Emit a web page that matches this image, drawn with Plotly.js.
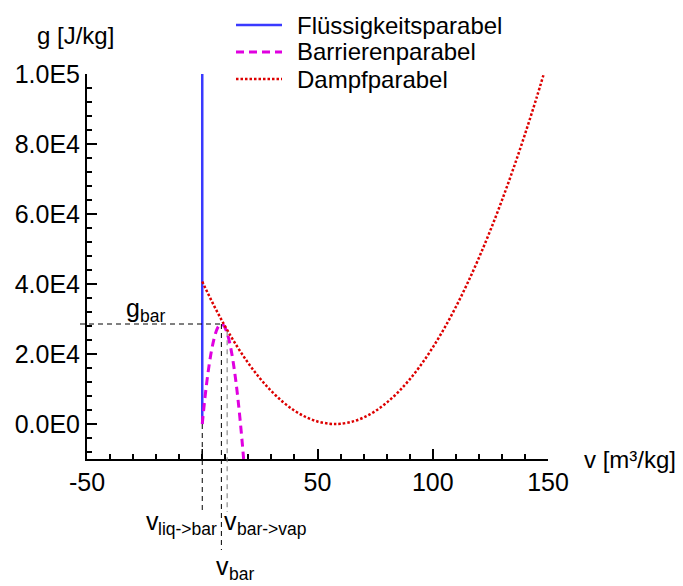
<!DOCTYPE html>
<html><head><meta charset="utf-8">
<script src="https://cdn.plot.ly/plotly-3.0.1.min.js"></script>
<style>html,body{margin:0;padding:0;background:#fff}#chart{width:683px;height:586px}</style>
</head><body><div id="chart"></div>
<script>
// ---- data ----
const seriesNames = ['Flüssigkeitsparabel', 'Barrierenparabel', 'Dampfparabel'];
const liqV = [0, 0];
const liqG = [0, 100000];
const barV = [0, 1, 2, 3, 4, 5, 6, 7, 8.3, 9.5, 10.5, 11.5, 12.5, 13.5, 14.5, 15.5, 16.5, 17.5, 17.95];
const barG = [0, 6470, 12110, 16920, 20900, 24050, 26380, 27870, 28570, 27970, 26560, 24320, 21250, 17360, 12630, 7070, 690, -6530, -10000];
const vapV = [0, 5, 10, 15, 20, 25, 30, 35, 40, 45, 50, 55, 57.7, 60, 65, 70, 75, 80, 85, 90, 95, 100, 105, 110, 115, 120, 125, 130, 135, 140, 145, 148];
const vapG = [40700, 33940, 27800, 22280, 17370, 13070, 9380, 6300, 3830, 1970, 725, 90, 0, 65, 650, 1850, 3660, 6080, 9110, 12750, 17000, 21870, 27340, 33430, 40120, 47430, 55350, 63880, 73020, 82770, 93130, 99640];
const vLiqBar = 0, vBar = 8.3, vBarVap = 10.8;
const gBar = 28570, gBarVap = 26500, gLiq = 0;
const xTickVals = [-50, 50, 100, 150];
const xTickText = ['-50', '50', '100', '150'];
const xUnlabelledTick = 0;
const yTickVals = [0, 20000, 40000, 60000, 80000, 100000];
const yTickText = ['0.0E0', '2.0E4', '4.0E4', '6.0E4', '8.0E4', '1.0E5'];
const xRange = [-50, 150], yRange = [-10000, 100000];
// guide-line labels: [main letter, subscript]
const guideLabels = [['g', 'bar'], ['v', 'liq-&gt;bar'], ['v', 'bar-&gt;vap'], ['v', 'bar']];
const xTitle = 'v [m³/kg]', yTitle = 'g [J/kg]';

// ---- layout helpers ----
const W = 683, H = 586, M = {l: 87, r: 135, t: 74, b: 127, pad: 0};
const PW = W - M.l - M.r, PH = H - M.t - M.b;
const pxX = px => (px - M.l) / PW;
const pxY = py => (H - M.b - py) / PH;
const gP = g => (g - yRange[0]) / (yRange[1] - yRange[0]);
const vP = v => (v - xRange[0]) / (xRange[1] - xRange[0]);
const FONT = 'Liberation Sans, Arial, sans-serif';
const f = (s) => ({family: FONT, size: s, color: '#000'});
const colors = ['#3a3aff', '#e000e0', '#dd0000'];
const dashes = ['solid', '8px,5px', '2.5px,2px'];
const widths = [2.5, 3, 2.5];
const MAIN = 25, SUB = 17.5;

const traces = [
  {x: liqV, y: liqG, name: seriesNames[0], mode: 'lines', line: {color: colors[0], width: widths[0]}},
  {x: barV, y: barG, name: seriesNames[1], mode: 'lines', line: {color: colors[1], width: widths[1], dash: dashes[1], shape: 'spline'}},
  {x: vapV, y: vapG, name: seriesNames[2], mode: 'lines', line: {color: colors[2], width: widths[2], dash: dashes[2], shape: 'spline'}}
];

const guide = {color: '#000', width: 1, dash: '5px,4px'};
const shapes = [
  {type: 'line', xref: 'paper', yref: 'y', x0: pxX(80), x1: vP(vBar), y0: gBar, y1: gBar, line: guide},
  {type: 'line', xref: 'x', yref: 'paper', x0: vLiqBar, x1: vLiqBar, y0: gP(gLiq), y1: pxY(512), line: guide},
  {type: 'line', xref: 'x', yref: 'paper', x0: vBar, x1: vBar, y0: gP(gBar), y1: pxY(550), line: guide},
  {type: 'line', xref: 'x', yref: 'paper', x0: vBarVap, x1: vBarVap, y0: gP(gBarVap), y1: pxY(512), line: Object.assign({}, guide, {color: '#777'})},
  // unlabelled major tick at v = 0
  {type: 'line', xref: 'x', yref: 'paper', x0: xUnlabelledTick, x1: xUnlabelledTick, y0: 0, y1: 10 / PH, line: {color: '#000', width: 1.5}}
];
const legendRows = [25, 52, 79];
seriesNames.forEach((n, i) => {
  shapes.push({type: 'line', xref: 'paper', yref: 'paper', x0: pxX(236), x1: pxX(282), y0: pxY(legendRows[i]), y1: pxY(legendRows[i]),
    line: {color: colors[i], width: widths[i], dash: dashes[i]}});
});

// label placement: left edge and top (px) of main letter, advance width of main letter
const labelPos = [
  {x: 124.4, top: 292.4, adv: 13.9},
  {x: 143.7, top: 505, adv: 12.5},
  {x: 222, top: 505, adv: 12.5},
  {x: 214, top: 550, adv: 12.5}
];
const ann = (text, x, y, xa, ya, size) => ({text: text, xref: 'paper', yref: 'paper', x: x, y: y, xanchor: xa, yanchor: ya, showarrow: false, font: f(size)});
const annotations = [];
guideLabels.forEach((lab, i) => {
  const p = labelPos[i];
  annotations.push(ann(lab[0], pxX(p.x), pxY(p.top), 'left', 'top', MAIN));
  annotations.push(ann(lab[1], pxX(p.x + p.adv), pxY(p.top + 12), 'left', 'top', SUB));
});
annotations.push(ann(yTitle, pxX(35), pxY(35), 'left', 'middle', 24));
annotations.push(ann(xTitle, pxX(582), pxY(459), 'left', 'middle', 24));
seriesNames.forEach((n, i) => {
  annotations.push(ann(n, pxX(295), pxY(legendRows[i]), 'left', 'middle', 24));
});

const axisCommon = {showgrid: false, zeroline: false, showline: true, linecolor: '#000', linewidth: 2,
  ticks: 'inside', tickcolor: '#000', tickwidth: 1.5, ticklen: 10, tickmode: 'array', tickfont: f(25)};

const layout = {
  width: W, height: H, margin: M, showlegend: false,
  paper_bgcolor: '#fff', plot_bgcolor: '#fff', font: f(24),
  xaxis: Object.assign({}, axisCommon, {range: xRange, tickvals: xTickVals, ticktext: xTickText,
    minor: {tickmode: 'linear', tick0: 0, dtick: 10, ticks: 'inside', ticklen: 5, tickwidth: 1.5, tickcolor: '#000'}}),
  yaxis: Object.assign({}, axisCommon, {range: yRange, tickvals: yTickVals, ticktext: yTickText,
    minor: {tickmode: 'linear', tick0: 0, dtick: 4000, ticks: 'inside', ticklen: 5, tickwidth: 1.5, tickcolor: '#000'}}),
  shapes: shapes, annotations: annotations
};
Plotly.newPlot('chart', traces, layout, {displayModeBar: false});
</script></body></html>
